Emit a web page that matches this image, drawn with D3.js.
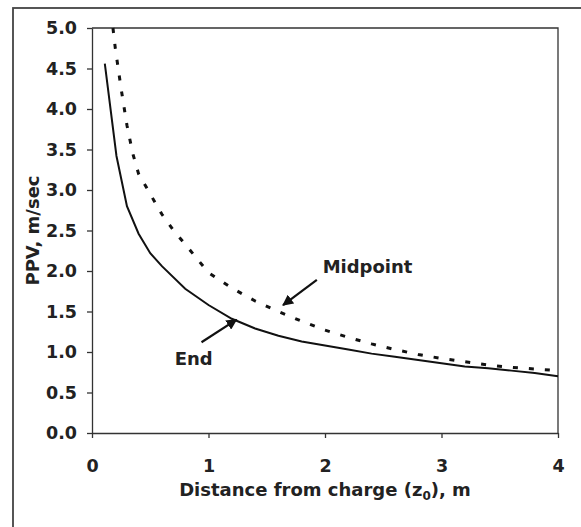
<!DOCTYPE html>
<meta charset="utf-8">
<style>
  body { margin: 0; background: #fff; }
  .axis text { font-family: "DejaVu Sans", sans-serif; font-weight: bold; font-size: 17.5px; fill: #222; }
  .axis path, .axis line { stroke: #333; stroke-width: 1.3px; }
  .lbl { font-family: "DejaVu Sans", sans-serif; font-weight: bold; font-size: 18px; fill: #222; }
</style>
<body>
<script src="https://d3js.org/d3.v7.min.js"></script>
<script>
  // distance from charge (m) and PPV (m/sec)
  var endX = [0.11, 0.21, 0.3, 0.4, 0.5, 0.6, 0.8, 1.0, 1.2, 1.4, 1.6, 1.8, 2.0, 2.2, 2.4, 2.6, 2.8, 3.0, 3.2, 3.4, 3.6, 3.8, 4.0];
  var endY = [4.56, 3.42, 2.8, 2.46, 2.22, 2.06, 1.78, 1.58, 1.41, 1.29, 1.2, 1.13, 1.08, 1.03, 0.98, 0.94, 0.9, 0.86, 0.82, 0.8, 0.77, 0.74, 0.7];
  var midX = [0.18, 0.2, 0.25, 0.3, 0.35, 0.4, 0.5, 0.6, 0.7, 0.8, 1.0, 1.2, 1.4, 1.6, 1.8, 2.0, 2.2, 2.4, 2.6, 2.8, 3.0, 3.2, 3.4, 3.6, 3.8, 4.0];
  var midY = [5.0, 4.75, 4.25, 3.8, 3.45, 3.2, 2.95, 2.7, 2.5, 2.33, 1.98, 1.79, 1.63, 1.5, 1.38, 1.27, 1.18, 1.1, 1.03, 0.97, 0.92, 0.88, 0.84, 0.81, 0.79, 0.77];
  var xTicks = [0, 1, 2, 3, 4];
  var yTicks = [0, 0.5, 1, 1.5, 2, 2.5, 3, 3.5, 4, 4.5, 5];

  var W = 581, H = 527;
  var margin = {top: 28, right: 23, bottom: 94, left: 92};
  var width = W - margin.left - margin.right,
      height = H - margin.top - margin.bottom;

  var svg = d3.select("body").append("svg")
    .attr("width", W)
    .attr("height", H);

  // outer frame
  svg.append("rect")
    .attr("x", 13).attr("y", 8)
    .attr("width", 600).attr("height", 600)
    .attr("fill", "none")
    .attr("stroke", "#444")
    .attr("stroke-width", 1.8);

  var g = svg.append("g")
    .attr("transform", "translate(" + margin.left + "," + margin.top + ")");

  var x = d3.scaleLinear().domain([0, 4]).range([0, width]);
  var y = d3.scaleLinear().domain([0, 5]).range([height, 0]);

  // plot box (top and right)
  g.append("path")
    .attr("d", "M0,0H" + width + "V" + height)
    .attr("fill", "none")
    .attr("stroke", "#333")
    .attr("stroke-width", 1.3);

  g.append("g")
    .attr("class", "axis")
    .attr("transform", "translate(0," + height + ")")
    .call(d3.axisBottom(x).tickValues(xTicks).tickFormat(d3.format("d")).tickSizeInner(5).tickSizeOuter(0).tickPadding(22));

  g.append("g")
    .attr("class", "axis")
    .call(d3.axisLeft(y).tickValues(yTicks).tickFormat(d3.format(".1f")).tickSizeInner(5).tickSizeOuter(0).tickPadding(10));

  var line = d3.line()
    .x(function(d) { return x(d[0]); })
    .y(function(d) { return y(d[1]); });

  var endData = endX.map(function(v, i) { return [v, endY[i]]; });
  var midData = midX.map(function(v, i) { return [v, midY[i]]; });

  g.append("path")
    .datum(endData)
    .attr("fill", "none")
    .attr("stroke", "#111")
    .attr("stroke-width", 2)
    .attr("d", line);

  g.append("path")
    .datum(midData)
    .attr("fill", "none")
    .attr("stroke", "#111")
    .attr("stroke-width", 3)
    .attr("stroke-dasharray", "5,11")
    .attr("d", line);

  // arrowhead
  var defs = svg.append("defs");
  defs.append("marker")
    .attr("id", "arr")
    .attr("viewBox", "0 0 10 10")
    .attr("refX", 9).attr("refY", 5)
    .attr("markerWidth", 5).attr("markerHeight", 5)
    .attr("orient", "auto")
    .append("path")
    .attr("d", "M0,0L10,5L0,10z")
    .attr("fill", "#111");

  // annotations (data coords)
  g.append("text").attr("class", "lbl")
    .attr("x", x(1.98)).attr("y", y(1.97))
    .text("Midpoint");
  g.append("line")
    .attr("x1", x(1.93)).attr("y1", y(1.89))
    .attr("x2", x(1.64)).attr("y2", y(1.58))
    .attr("stroke", "#111").attr("stroke-width", 2.2)
    .attr("marker-end", "url(#arr)");

  g.append("text").attr("class", "lbl")
    .attr("x", x(0.71)).attr("y", y(0.84))
    .text("End");
  g.append("line")
    .attr("x1", x(0.94)).attr("y1", y(1.12))
    .attr("x2", x(1.24)).attr("y2", y(1.4))
    .attr("stroke", "#111").attr("stroke-width", 2.2)
    .attr("marker-end", "url(#arr)");

  // axis titles
  var xt = svg.append("text").attr("class", "lbl")
    .attr("x", margin.left + width / 2).attr("y", 496)
    .attr("text-anchor", "middle");
  xt.append("tspan").text("Distance from charge (z");
  xt.append("tspan").attr("font-size", "12px").attr("dy", 4).text("0");
  xt.append("tspan").attr("dy", -4).text("), m");

  svg.append("text").attr("class", "lbl")
    .attr("transform", "translate(39," + (margin.top + height / 2) + ") rotate(-90)")
    .attr("text-anchor", "middle")
    .text("PPV, m/sec");
</script>
</body>
